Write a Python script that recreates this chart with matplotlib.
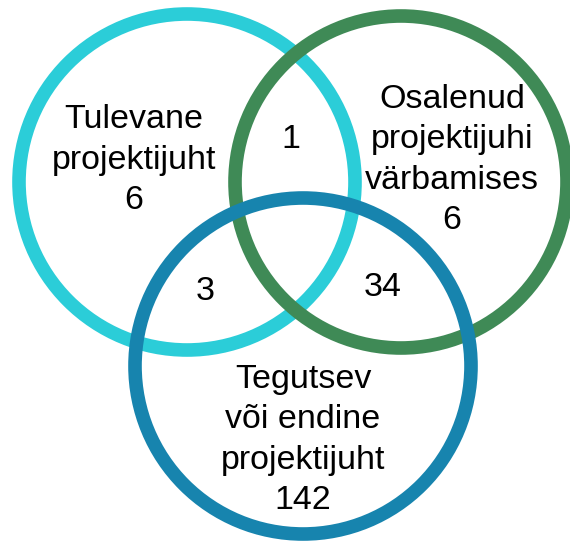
import matplotlib
matplotlib.use("Agg")
import matplotlib.pyplot as plt
from matplotlib.patches import Circle

plt.rcParams['font.family'] = ['Liberation Sans', 'DejaVu Sans']

# Data
set_labels = ["Tulevane\nprojektijuht", "Osalenud\nprojektijuhi\nvärbamises", "Tegutsev\nvõi endine\nprojektijuht"]
only_counts = [6, 6, 142]
pair_labels = ["1", "3", "34"]  # cyan∩green, cyan∩blue, green∩blue
colors = ["#2BCDD8", "#3F8A56", "#1784AE"]

# Geometry (pixel space)
centers = [(187, 182), (401, 182), (303, 366)]
radii = [168, 166, 168]
set_text_pos = [(134, 160), (452, 160), (303, 440)]
pair_text_pos = [(291, 140), (205, 291), (383, 287)]

W, H = 570, 541
fig = plt.figure(figsize=(W / 100, H / 100), dpi=100)
ax = fig.add_axes([0, 0, 1, 1])
ax.set_xlim(0, W)
ax.set_ylim(H, 0)
ax.set_aspect('equal')
ax.axis('off')

for (c, r, col, z) in zip(centers, radii, colors, [1, 2, 3]):
    ax.add_patch(Circle(c, r, fill=False, edgecolor=col, linewidth=9.8, zorder=z))

fs = 24.5
for lab, n, (x, y) in zip(set_labels, only_counts, set_text_pos):
    ax.text(x, y, f"{lab}\n{n}", ha='center', va='center', fontsize=fs,
            linespacing=1.38, color='black', zorder=5)
for lab, (x, y) in zip(pair_labels, pair_text_pos):
    ax.text(x, y, lab, ha='center', va='center', fontsize=fs, color='black', zorder=5)

fig.savefig("out.png", dpi=100)
